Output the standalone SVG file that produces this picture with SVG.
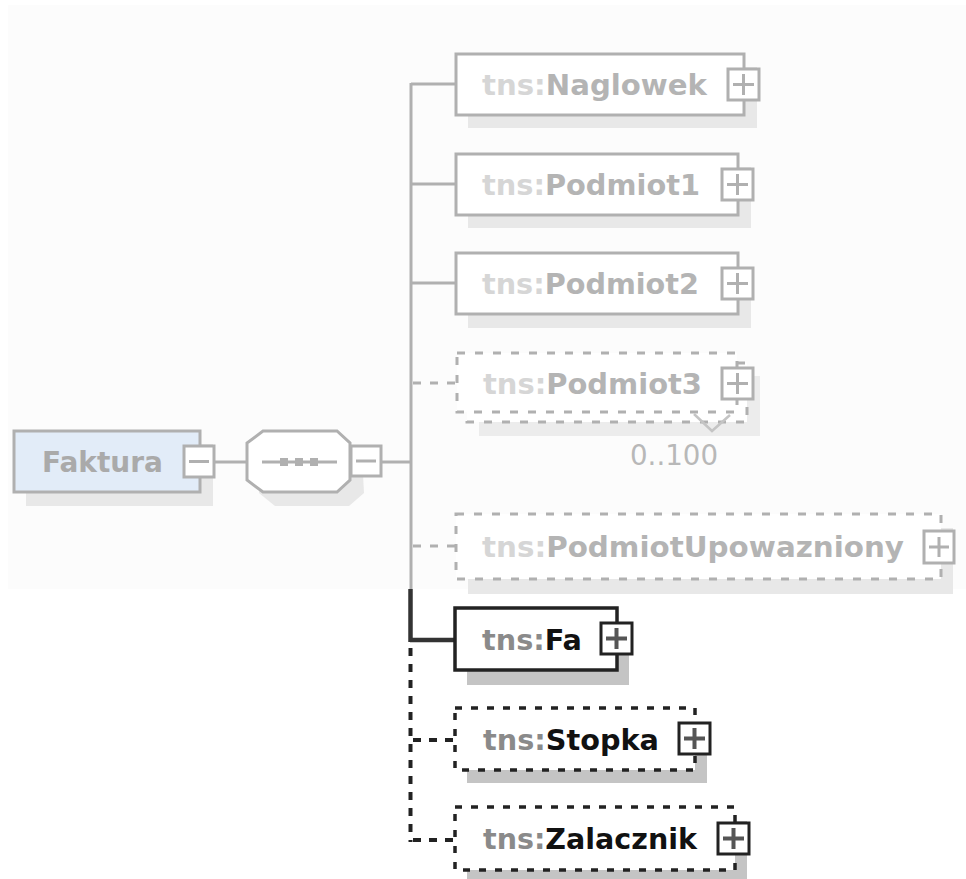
<svg xmlns="http://www.w3.org/2000/svg" width="966" height="879" viewBox="0 0 966 879">
<style>
.lbl{font-family:"DejaVu Sans","Liberation Sans",sans-serif;font-weight:bold;font-size:29px}
.fp{fill:#d6d6d6}.fn{fill:#b4b4b4}
.sp{fill:#8a8a8a}.sn{fill:#111111}
.gbox{fill:#ffffff;stroke:#b0b0b0;stroke-width:3}
.gdash{fill:#ffffff;stroke:#b0b0b0;stroke-width:3;stroke-dasharray:8 10}
.bbox{fill:#ffffff;stroke:#222222;stroke-width:3.5}
.bdot{fill:#ffffff;stroke:#222222;stroke-width:3.5;stroke-dasharray:7 9}
.gsh{fill:#e8e8e8}
.bsh{fill:#c4c4c4}
.gpm{fill:#ffffff;stroke:#b0b0b0;stroke-width:3}
.bpm{fill:#ffffff;stroke:#222222;stroke-width:3}
.gsign{stroke:#b0b0b0;stroke-width:3;fill:none}
.bsign{stroke:#555555;stroke-width:4;fill:none}
.gc{stroke:#b0b0b0;stroke-width:3;fill:none}
.gcd{stroke:#b0b0b0;stroke-width:3;fill:none;stroke-dasharray:8 9}
.bc{stroke:#333333;stroke-width:4.5;fill:none}
.bcd{stroke:#222222;stroke-width:4;fill:none;stroke-dasharray:8 8}
</style>
<rect x="0" y="0" width="966" height="879" fill="#ffffff"/>
<rect x="8" y="5" width="958" height="584" fill="#fcfcfc"/>

<g id="connectors">
  <line class="gc" x1="215" y1="462" x2="247" y2="462"/>
  <line class="gc" x1="382" y1="462" x2="411" y2="462"/>
  <line class="gc" x1="411" y1="83" x2="411" y2="589"/>
  <line class="gc" x1="411" y1="84" x2="456" y2="84"/>
  <line class="gc" x1="411" y1="184" x2="456" y2="184"/>
  <line class="gc" x1="411" y1="283" x2="456" y2="283"/>
  <line class="gcd" x1="413" y1="383" x2="457" y2="383"/>
  <line class="gcd" x1="413" y1="546" x2="456" y2="546"/>
  <line class="bc" x1="410.5" y1="589" x2="410.5" y2="642"/>
  <line class="bc" x1="410" y1="640" x2="455" y2="640"/>
  <line class="bcd" x1="410.5" y1="648" x2="410.5" y2="842"/>
  <line class="bcd" x1="413" y1="740" x2="455" y2="740"/>
  <line class="bcd" x1="413" y1="840" x2="455" y2="840"/>
</g>

<g id="node-faktura">
  <rect class="gsh" x="26" y="444" width="187" height="62"/>
  <rect x="14" y="431" width="186" height="61" fill="#e2ecf8" stroke="#b0b0b0" stroke-width="3"/>
  <text class="lbl" x="42" y="472" fill="#aaaaaa" textLength="121" lengthAdjust="spacingAndGlyphs">Faktura</text>
  <rect class="gpm" x="184" y="446" width="30" height="31"/>
  <line class="gsign" x1="189" y1="461.5" x2="209" y2="461.5"/>
</g>

<g id="node-sequence">
  <polygon class="gsh" points="275,444 349,444 362,456 364,493 349,506 275,506 259,493 259,456"/>
  <polygon points="263,431 337,431 350,443 350,480 337,492 263,492 247,480 247,443" fill="#ffffff" stroke="#b0b0b0" stroke-width="3"/>
  <line class="gc" x1="262" y1="462" x2="337" y2="462"/>
  <rect x="280" y="458" width="8" height="8" fill="#b0b0b0"/>
  <rect x="295" y="458" width="8" height="8" fill="#b0b0b0"/>
  <rect x="310" y="458" width="8" height="8" fill="#b0b0b0"/>
  <rect class="gpm" x="351" y="446" width="30" height="30"/>
  <line class="gsign" x1="356" y1="461" x2="376" y2="461"/>
</g>

<g id="node-naglowek">
  <rect class="gsh" x="468" y="67" width="289" height="61"/>
  <rect class="gbox" x="456" y="54" width="288" height="61"/>
  <text class="lbl" x="482" y="95" textLength="225" lengthAdjust="spacingAndGlyphs"><tspan class="fp">tns:</tspan><tspan class="fn">Naglowek</tspan></text>
  <rect class="gpm" x="728" y="69" width="31" height="31"/>
  <path class="gsign" d="M733 84.5H754M743.5 74V95"/>
</g>

<g id="node-podmiot1">
  <rect class="gsh" x="468" y="167" width="283" height="61"/>
  <rect class="gbox" x="456" y="154" width="282" height="61"/>
  <text class="lbl" x="482" y="195" textLength="218" lengthAdjust="spacingAndGlyphs"><tspan class="fp">tns:</tspan><tspan class="fn">Podmiot1</tspan></text>
  <rect class="gpm" x="722" y="169" width="31" height="31"/>
  <path class="gsign" d="M727 184.5H748M737.5 174V195"/>
</g>

<g id="node-podmiot2">
  <rect class="gsh" x="468" y="267" width="283" height="61"/>
  <rect class="gbox" x="456" y="253" width="282" height="61"/>
  <text class="lbl" x="482" y="294" textLength="217" lengthAdjust="spacingAndGlyphs"><tspan class="fp">tns:</tspan><tspan class="fn">Podmiot2</tspan></text>
  <rect class="gpm" x="722" y="268" width="31" height="31"/>
  <path class="gsign" d="M727 283.5H748M737.5 273V294"/>
</g>

<g id="node-podmiot3">
  <rect x="479" y="376" width="281" height="60" fill="#ececec"/>
  <rect class="gdash" x="467" y="363" width="280" height="59"/>
  <rect class="gdash" x="457" y="353" width="280" height="59"/>
  <text class="lbl" x="483" y="394" textLength="219" lengthAdjust="spacingAndGlyphs"><tspan class="fp">tns:</tspan><tspan class="fn">Podmiot3</tspan></text>
  <rect class="gpm" x="722" y="368" width="31" height="31"/>
  <path class="gsign" d="M727 383.5H748M737.5 373V394"/>
  <polyline points="694,414 712,431 730,415" fill="none" stroke="#c4c4c4" stroke-width="2.5"/>
  <text x="630" y="465" font-family="DejaVu Sans, Liberation Sans, sans-serif" font-size="28" fill="#b8b8b8" textLength="88" lengthAdjust="spacingAndGlyphs">0..100</text>
</g>

<g id="node-podmiotupowazniony">
  <rect class="gsh" x="468" y="528" width="485" height="66"/>
  <rect class="gdash" x="456" y="514" width="485" height="65"/>
  <text class="lbl" x="482" y="557" textLength="422" lengthAdjust="spacingAndGlyphs"><tspan class="fp">tns:</tspan><tspan class="fn">PodmiotUpowazniony</tspan></text>
  <rect class="gpm" x="924" y="531" width="30" height="32"/>
  <path class="gsign" d="M929 547H949M939 537V557"/>
</g>

<g id="node-fa">
  <rect class="bsh" x="467" y="622" width="162" height="63"/>
  <rect class="bbox" x="455" y="608" width="162" height="62"/>
  <text class="lbl" x="482" y="650" textLength="100" lengthAdjust="spacingAndGlyphs"><tspan class="sp">tns:</tspan><tspan class="sn">Fa</tspan></text>
  <rect class="bpm" x="601" y="623" width="31" height="31"/>
  <path class="bsign" d="M606 638.5H627M616.5 628V649"/>
</g>

<g id="node-stopka">
  <rect class="bsh" x="467" y="722" width="240" height="61"/>
  <rect class="bdot" x="455" y="708" width="240" height="62"/>
  <text class="lbl" x="483" y="750" textLength="176" lengthAdjust="spacingAndGlyphs"><tspan class="sp">tns:</tspan><tspan class="sn">Stopka</tspan></text>
  <rect class="bpm" x="679" y="723" width="31" height="31"/>
  <path class="bsign" d="M684 738.5H705M694.5 728V749"/>
</g>

<g id="node-zalacznik">
  <rect class="bsh" x="467" y="821" width="280" height="62"/>
  <rect class="bdot" x="455" y="807" width="280" height="63"/>
  <text class="lbl" x="483" y="849" textLength="214" lengthAdjust="spacingAndGlyphs"><tspan class="sp">tns:</tspan><tspan class="sn">Zalacznik</tspan></text>
  <rect class="bpm" x="718" y="823" width="31" height="31"/>
  <path class="bsign" d="M723 838.5H744M733.5 828V849"/>
</g>
</svg>
